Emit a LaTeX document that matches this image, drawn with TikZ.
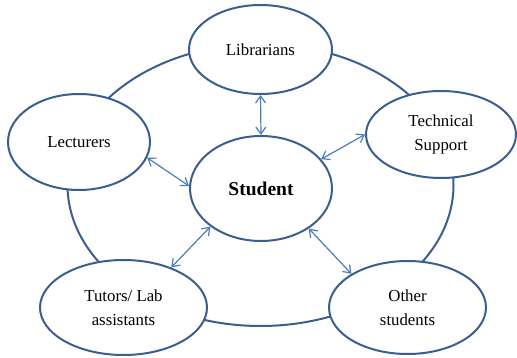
\documentclass[tikz,border=0pt]{standalone}
\usepackage{fontspec}
\setmainfont{Liberation Serif}
\usetikzlibrary{shapes.geometric,arrows.meta}
\definecolor{rim}{HTML}{3A5F8F}
\definecolor{arr}{HTML}{4A7EBB}
\begin{document}
\begin{tikzpicture}[x=1pt,y=-1pt,
  bub/.style={ellipse,draw=rim,line width=2pt,fill=white,inner sep=0pt,align=center,font=\fontsize{16.8}{24}\selectfont},
  link/.style={draw=arr,line width=1.2pt,{Straight Barb[length=7pt,width=10pt]}-{Straight Barb[length=7pt,width=10pt]}}]
\useasboundingbox (0,0) rectangle (517,358);
\draw[rim,line width=2pt] (260.5,185) ellipse [x radius=193, y radius=141];
\node[bub,minimum width=143pt,minimum height=89pt] (lib) at (260.5,49.5) {Librarians};
\node[bub,minimum width=142pt,minimum height=96pt] (lec) at (79,142) {Lecturers};
\node[bub,minimum width=150pt,minimum height=87pt] (tech) at (441,134.5) {Technical\\Support};
\node[bub,minimum width=142pt,minimum height=105pt,font=\fontsize{19.5}{23}\bfseries\selectfont] (stu) at (261,188.5) {Student};
\node[bub,minimum width=167pt,minimum height=95pt] (tut) at (123.5,307.5) {Tutors/ Lab\\assistants};
\node[bub,minimum width=157pt,minimum height=93pt] (oth) at (407.5,307.5) {Other\\students};
\draw[link] (lib.south) -- (stu.north);
\draw[link] (lec.-13) -- (stu.178);
\draw[link] (tech.180) -- (stu.26);
\draw[link] (tut.40) -- (stu.217);
\draw[link] (oth.149) -- (stu.-40);
\end{tikzpicture}
\end{document}
